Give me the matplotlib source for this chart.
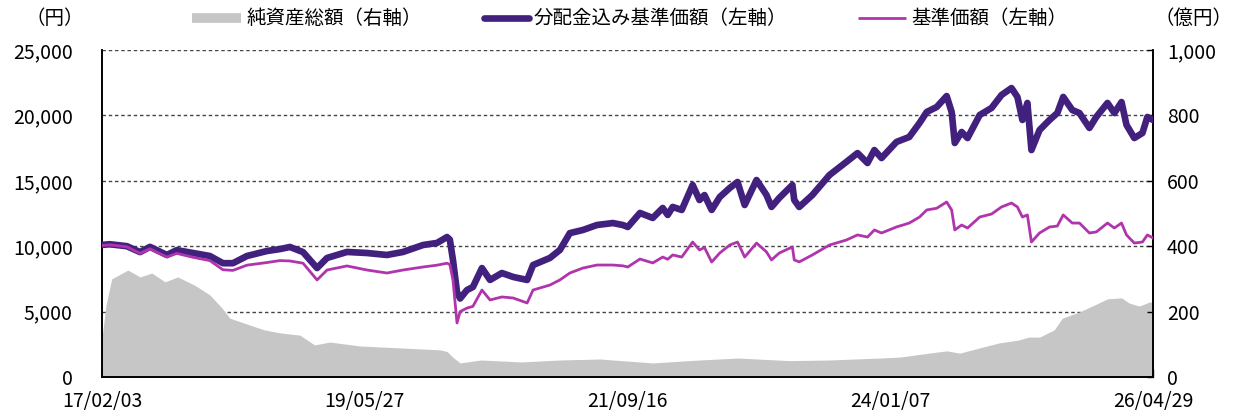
import matplotlib
matplotlib.use("Agg")
import matplotlib.pyplot as plt
from matplotlib.lines import Line2D
import pandas as pd

plt.rcParams['font.family'] = ['Noto Sans CJK JP', 'DejaVu Sans']

# ---- data ----
line_dates = [
    "2017-02-03", "2017-02-28", "2017-04-24", "2017-06-05", "2017-07-07", "2017-08-30",
    "2017-10-01", "2017-11-22", "2018-01-15", "2018-02-26", "2018-03-30", "2018-05-14",
    "2018-07-17", "2018-08-28", "2018-09-29", "2018-11-10", "2018-12-25", "2019-01-26",
    "2019-03-31", "2019-06-03", "2019-08-06", "2019-09-27", "2019-11-30", "2020-01-14",
    "2020-02-15", "2020-02-24", "2020-03-05", "2020-03-18", "2020-03-28", "2020-04-19",
    "2020-05-08", "2020-06-06", "2020-07-02", "2020-08-09", "2020-09-14", "2020-10-29",
    "2020-11-17", "2021-01-10", "2021-02-11", "2021-03-15", "2021-04-26", "2021-06-10",
    "2021-07-31", "2021-09-01", "2021-09-17", "2021-10-26", "2021-12-06", "2022-01-07",
    "2022-01-23", "2022-02-08", "2022-03-09", "2022-04-13", "2022-05-05", "2022-05-21",
    "2022-06-13", "2022-07-09", "2022-08-10", "2022-09-04", "2022-09-27", "2022-11-04",
    "2022-12-06", "2022-12-22", "2023-01-16", "2023-02-27", "2023-03-05", "2023-03-21",
    "2023-05-02", "2023-06-26", "2023-08-19", "2023-09-24", "2023-10-26", "2023-11-17",
    "2023-12-10", "2024-01-27", "2024-03-08", "2024-04-10", "2024-05-03", "2024-06-04",
    "2024-07-06", "2024-07-22", "2024-08-01", "2024-08-23", "2024-09-11", "2024-10-20",
    "2024-11-27", "2024-12-29", "2025-01-30", "2025-02-18", "2025-03-06", "2025-03-22",
    "2025-04-04", "2025-04-30", "2025-06-01", "2025-06-26", "2025-07-15", "2025-08-13",
    "2025-09-05", "2025-10-07", "2025-10-29", "2025-12-04", "2025-12-26", "2026-01-18",
    "2026-02-03", "2026-02-28", "2026-03-26", "2026-04-11", "2026-04-29",
]
nav_with_dist = [
    10100, 10150, 10000, 9550, 9950, 9330,
    9700, 9480, 9250, 8700, 8700, 9250,
    9630, 9780, 9940, 9550, 8330, 9100,
    9560, 9480, 9330, 9560, 10090, 10250,
    10700, 10500, 8950, 6500, 6000, 6650,
    6880, 8330, 7420, 7950, 7650, 7420,
    8560, 9100, 9710, 11000, 11240, 11620,
    11770, 11620, 11470, 12540, 12160, 12920,
    12390, 13000, 12770, 14680, 13530, 13910,
    12770, 13760, 14450, 14910, 13150, 15060,
    13910, 13000, 13690, 14680, 13530, 13000,
    13910, 15440, 16440, 17120, 16360, 17350,
    16740, 17970, 18350, 19420, 20260, 20640,
    21480, 20260, 17890, 18730, 18270, 20030,
    20570, 21560, 22090, 21410, 19650, 20950,
    17350, 18880, 19650, 20180, 21410, 20410,
    20180, 19040, 19880, 20950, 20180, 21020,
    19270, 18270, 18650, 19880, 19650,
]
nav = [
    10050, 10100, 9950, 9450, 9800, 9170,
    9450, 9150, 8900, 8200, 8150, 8550,
    8750, 8900, 8870, 8700, 7420, 8180,
    8490, 8180, 7950, 8180, 8410, 8550,
    8700, 8600, 7420, 4130, 5000, 5270,
    5400, 6650, 5890, 6120, 6040, 5660,
    6650, 7030, 7420, 7950, 8330, 8560,
    8560, 8500, 8410, 9020, 8720, 9170,
    9000, 9330, 9170, 10320, 9710, 9900,
    8790, 9480, 10090, 10320, 9170, 10240,
    9560, 8950, 9480, 9940, 8950, 8800,
    9330, 10090, 10470, 10860, 10700, 11240,
    11010, 11470, 11770, 12230, 12770, 12900,
    13380, 12770, 11240, 11620, 11390, 12230,
    12460, 13000, 13300, 13000, 12230, 12390,
    10320, 11010, 11470, 11540, 12390, 11770,
    11770, 11010, 11090, 11770, 11390, 11770,
    10860, 10240, 10320, 10860, 10630,
]

asset_dates = [
    "2017-02-03", "2017-02-16", "2017-03-06", "2017-04-27", "2017-06-05", "2017-07-13",
    "2017-08-24", "2017-10-04", "2017-11-27", "2018-01-15", "2018-02-23", "2018-03-20",
    "2018-05-23", "2018-07-09", "2018-08-28", "2018-10-31", "2018-12-17", "2019-02-04",
    "2019-05-10", "2019-09-16", "2020-01-23", "2020-02-15", "2020-03-05", "2020-03-28",
    "2020-06-03", "2020-10-10", "2021-02-11", "2021-06-19", "2021-12-06", "2022-05-05",
    "2022-09-06", "2023-02-19", "2023-06-26", "2023-12-06", "2024-02-07", "2024-05-11",
    "2024-07-06", "2024-08-17", "2024-12-20", "2025-02-22", "2025-03-26", "2025-04-30",
    "2025-06-16", "2025-07-12", "2025-09-05", "2025-10-23", "2025-12-04", "2026-01-18",
    "2026-02-12", "2026-03-16", "2026-04-17", "2026-04-29",
]
net_assets = [
    120, 220, 300, 327, 306, 318,
    291, 306, 281, 251, 211, 180,
    159, 144, 135, 128, 98, 107,
    95, 89, 83, 78, 60, 43,
    52, 46, 52, 55, 43, 52,
    58, 50, 52, 58, 61, 73,
    80, 73, 104, 113, 122, 122,
    144, 180, 199, 220, 239, 242,
    226, 217, 229, 229,
]

xtick_labels = ["17/02/03", "19/05/27", "21/09/16", "24/01/07", "26/04/29"]
left_ticks = [0, 5000, 10000, 15000, 20000, 25000]
right_ticks = [0, 200, 400, 600, 800, 1000]

legend_labels = ["純資産総額（右軸）", "分配金込み基準価額（左軸）", "基準価額（左軸）"]

# ---- styling ----
C_GRAY = "#c6c6c6"
C_DIST = "#42207e"
C_NAV = "#b035ad"
FS = 14

ld = pd.to_datetime(line_dates)
adt = pd.to_datetime(asset_dates)
tick_dates = pd.to_datetime(["20" + s for s in xtick_labels], format="%Y/%m/%d")

fig = plt.figure(figsize=(12.36, 4.12), dpi=100)
# ax2: right-axis scale (net assets, 億円), drawn underneath
ax2 = fig.add_axes([102 / 1236, 35 / 412, 1051 / 1236, 327 / 412])
# ax: left-axis scale (円), drawn on top
ax = ax2.twinx()
ax.set_position(ax2.get_position())
ax.set_zorder(ax2.get_zorder() + 1)
ax.patch.set_visible(False)

ax2.fill_between(adt, net_assets, 0, color=C_GRAY, lw=0, zorder=2)
ax2.set_ylim(0, 1000)
for v in right_ticks[1:]:
    ax2.axhline(v, color="#444444", lw=1.0, ls=(0, (2.5, 2)), zorder=1)

ax.plot(ld, nav_with_dist, color=C_DIST, lw=4.8, solid_joinstyle="round",
        solid_capstyle="round", zorder=3)
ax.plot(ld, nav, color=C_NAV, lw=2.0, zorder=4)
ax.set_ylim(0, 25000)
ax.set_xlim(tick_dates[0], tick_dates[-1])

# ax2 (0..1000) sits on the left, so it carries the 円 labels
ax2.yaxis.tick_left()
ax2.set_yticks([v / 25 for v in left_ticks])
ax2.set_yticklabels([f"{v:,}" for v in left_ticks], fontsize=FS)
ax2.tick_params(axis="y", direction="in", length=0, pad=21)

# ax (0..25000) sits on the right, so it carries the 億円 labels
ax.yaxis.tick_right()
ax.set_yticks([v * 25 for v in right_ticks])
ax.set_yticklabels([f"{v:,}" for v in right_ticks], fontsize=FS)
ax.tick_params(axis="y", direction="in", length=4, pad=10, width=1)

ax2.set_xticks(tick_dates)
ax2.set_xticklabels(xtick_labels, fontsize=FS)
ax2.tick_params(axis="x", direction="in", length=6, pad=10, width=1)
ax.tick_params(axis="x", bottom=False, labelbottom=False, top=False)

for a in (ax, ax2):
    a.spines["top"].set_visible(False)
    for s in ("left", "right", "bottom"):
        a.spines[s].set_color("black")
        a.spines[s].set_linewidth(1.2)

# header texts and legend
yl = 1 - 18 / 412
fig.text(55 / 1236, yl, "（円）", fontsize=FS, ha="center", va="center")
fig.text(1193 / 1236, yl, "（億円）", fontsize=FS, ha="center", va="center")

fig.add_artist(Line2D([192 / 1236, 241 / 1236], [yl, yl], color=C_GRAY, lw=7,
                      solid_capstyle="butt", transform=fig.transFigure))
fig.text(247 / 1236, yl, legend_labels[0], fontsize=FS, ha="left", va="center")
fig.add_artist(Line2D([484 / 1236, 529 / 1236], [yl, yl], color=C_DIST, lw=4.8,
                      solid_capstyle="round", transform=fig.transFigure))
fig.text(534 / 1236, yl, legend_labels[1], fontsize=FS, ha="left", va="center")
fig.add_artist(Line2D([858 / 1236, 906 / 1236], [yl, yl], color=C_NAV, lw=2.0,
                      solid_capstyle="butt", transform=fig.transFigure))
fig.text(911 / 1236, yl, legend_labels[2], fontsize=FS, ha="left", va="center")

fig.savefig("out.png", dpi=100, facecolor="white")
